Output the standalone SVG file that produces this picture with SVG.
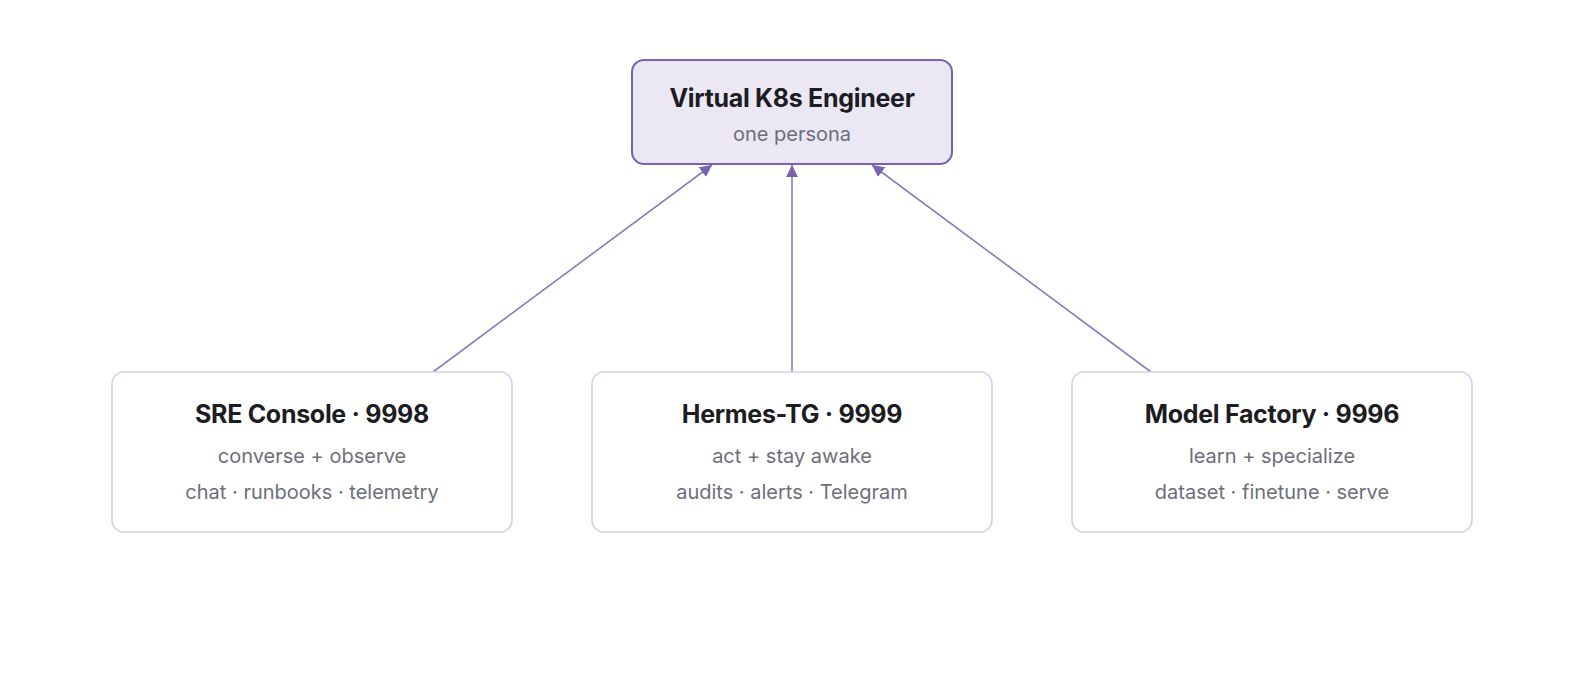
<svg xmlns="http://www.w3.org/2000/svg" width="1584" height="688" viewBox="0 0 1584 688">
<defs>
<marker id="arr" viewBox="0 0 10 10" refX="10" refY="5" markerWidth="12" markerHeight="12" markerUnits="userSpaceOnUse" orient="auto">
<path d="M0,0 L10,5 L0,10 z" fill="#7a62b3"/>
</marker>
<style>
.t{font-family:Inter,"Noto Sans",sans-serif;font-weight:700;fill:#1c1c22;text-anchor:middle;letter-spacing:-0.3px}
.s{font-family:Inter,"Noto Sans",sans-serif;font-weight:400;fill:#6e6e7a;text-anchor:middle}
.main{fill:#ebe7f5;stroke:#7a62b3;stroke-width:2}
.sub{fill:#ffffff;stroke:#d6cdeb;stroke-width:1.6}
.edge{stroke:#8a7bc2;stroke-width:1.6;fill:none}
</style>
</defs>
<rect width="1584" height="688" fill="#ffffff"/>
<g id="connectors">
<line class="edge" x1="433" y1="372" x2="712" y2="165" marker-end="url(#arr)"/>
<line class="edge" x1="792" y1="372" x2="792" y2="165" marker-end="url(#arr)"/>
<line class="edge" x1="1151" y1="372" x2="872" y2="165" marker-end="url(#arr)"/>
</g>
<g id="engineer">
<rect class="main" x="632" y="60" width="320" height="104" rx="12"/>
<text class="t" x="792" y="107" font-size="25">Virtual K8s Engineer</text>
<text class="s" x="792" y="141" font-size="20">one persona</text>
</g>
<g id="sre">
<rect class="sub" x="112" y="372" width="400" height="160" rx="12"/>
<text class="t" x="312" y="423" font-size="25">SRE Console · 9998</text>
<text class="s" x="312" y="463" font-size="20">converse + observe</text>
<text class="s" x="312" y="499" font-size="20">chat · runbooks · telemetry</text>
</g>
<g id="hermes">
<rect class="sub" x="592" y="372" width="400" height="160" rx="12"/>
<text class="t" x="792" y="423" font-size="25">Hermes-TG · 9999</text>
<text class="s" x="792" y="463" font-size="20">act + stay awake</text>
<text class="s" x="792" y="499" font-size="20">audits · alerts · Telegram</text>
</g>
<g id="factory">
<rect class="sub" x="1072" y="372" width="400" height="160" rx="12"/>
<text class="t" x="1272" y="423" font-size="25">Model Factory · 9996</text>
<text class="s" x="1272" y="463" font-size="20">learn + specialize</text>
<text class="s" x="1272" y="499" font-size="20">dataset · finetune · serve</text>
</g>
</svg>
